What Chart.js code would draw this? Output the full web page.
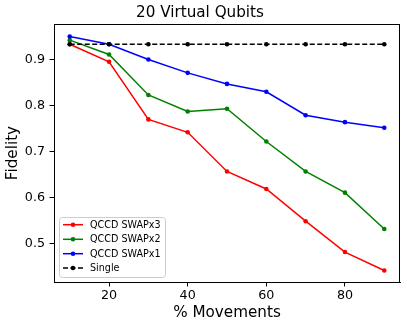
<!DOCTYPE html>
<html>
<head>
<meta charset="utf-8">
<script src="https://cdn.jsdelivr.net/npm/chart.js@4"></script>
<style>
  html, body { margin: 0; padding: 0; background: #fff; }
  #wrap { width: 407px; height: 328px; }
</style>
</head>
<body>
<div id="wrap"><canvas id="fid"></canvas></div>
<script>
const movements = [10, 20, 30, 40, 50, 60, 70, 80, 90];
const swapx3 = [0.933, 0.895, 0.770, 0.742, 0.657, 0.619, 0.549, 0.482, 0.442];
const swapx2 = [0.942, 0.911, 0.823, 0.787, 0.793, 0.722, 0.657, 0.611, 0.532];
const swapx1 = [0.950, 0.933, 0.900, 0.871, 0.847, 0.830, 0.779, 0.764, 0.752];
const single = [0.933, 0.933, 0.933, 0.933, 0.933, 0.933, 0.933, 0.933, 0.933];
const xTicks = [20, 40, 60, 80];
const yTicks = [0.5, 0.6, 0.7, 0.8, 0.9];

const FONT = "'DejaVu Sans', sans-serif";
const names = ["QCCD SWAPx3", "QCCD SWAPx2", "QCCD SWAPx1", "Single"];
const colors = ["#ff0000", "#008000", "#0000ff", "#000000"];

function pts(ys) {
  return movements.map((x, i) => ({ x: x, y: ys[i] }));
}

function line(idx, ys, dash) {
  return {
    label: names[idx],
    data: pts(ys),
    borderColor: colors[idx],
    backgroundColor: colors[idx],
    pointBackgroundColor: colors[idx],
    pointBorderWidth: 0,
    pointRadius: 2.3,
    borderWidth: 1.5,
    borderDash: dash || [],
    tension: 0,
    order: 4 - idx
  };
}

// frame + legend drawn like matplotlib
const boxPlugin = {
  id: "box",
  afterDraw(chart) {
    const c = chart.ctx;
    const a = chart.chartArea;
    c.save();
    c.strokeStyle = "#000";
    c.lineWidth = 1;
    c.strokeRect(Math.round(a.left) + 0.5, Math.round(a.top) + 0.5,
      Math.round(a.right - a.left) - 1, Math.round(a.bottom - a.top));

    // legend
    const lx = 59, ly = 217, lw = 106, lh = 60;
    c.beginPath();
    c.roundRect(lx + 0.5, ly + 0.5, lw, lh, 3);
    c.fillStyle = "rgba(255,255,255,0.8)";
    c.fill();
    c.strokeStyle = "#cccccc";
    c.stroke();
    const rows = [224.7, 239.3, 253.7, 268];
    c.font = "9.6px " + FONT;
    c.textBaseline = "middle";
    c.textAlign = "left";
    names.forEach((n, i) => {
      const y = rows[i];
      c.strokeStyle = colors[i];
      c.lineWidth = 1.5;
      c.setLineDash(i === 3 ? [5, 2.5] : []);
      c.beginPath();
      c.moveTo(63, y);
      c.lineTo(83, y);
      c.stroke();
      c.setLineDash([]);
      c.fillStyle = colors[i];
      c.beginPath();
      c.arc(73, y, 2.3, 0, Math.PI * 2);
      c.fill();
      c.fillStyle = "#000";
      c.fillText(n, 90, y + 0.5);
    });
    c.restore();
  }
};

const ctx = document.getElementById("fid").getContext("2d");
new Chart(ctx, {
  type: "line",
  data: {
    datasets: [
      line(0, swapx3),
      line(1, swapx2),
      line(2, swapx1),
      line(3, single, [5, 2.5])
    ]
  },
  options: {
    responsive: true,
    maintainAspectRatio: false,
    animation: false,
    layout: { padding: { top: 0, right: 7, left: 0, bottom: 0 } },
    plugins: {
      legend: { display: false },
      tooltip: { enabled: false },
      title: {
        display: true,
        text: "20 Virtual Qubits",
        color: "#000",
        font: { family: FONT, size: 15.2, weight: "normal" },
        padding: { top: 4.4, bottom: 1.4 }
      }
    },
    scales: {
      x: {
        type: "linear",
        min: 6,
        max: 94,
        afterBuildTicks: s => { s.ticks = xTicks.map(v => ({ value: v })); },
        afterFit: s => { s.height = 46; },
        grid: { drawOnChartArea: false, drawTicks: true, tickLength: 4.5, color: "#000" },
        border: { display: true, color: "#000" },
        ticks: {
          color: "#000",
          padding: 2,
          maxRotation: 0,
          font: { family: FONT, size: 12.7 },
          callback: v => String(v)
        },
        title: {
          display: true,
          text: "% Movements",
          color: "#000",
          font: { family: FONT, size: 15.2 },
          padding: { top: 0, bottom: 5.9 }
        }
      },
      y: {
        min: 0.417,
        max: 0.977,
        afterBuildTicks: s => { s.ticks = yTicks.map(v => ({ value: v })); },
        afterFit: s => { s.width = 54; },
        grid: { drawOnChartArea: false, drawTicks: true, tickLength: 4.5, color: "#000" },
        border: { display: true, color: "#000" },
        ticks: {
          color: "#000",
          padding: 4.5,
          font: { family: FONT, size: 12.7 },
          callback: v => v.toFixed(1)
        },
        title: {
          display: true,
          text: "Fidelity",
          color: "#000",
          font: { family: FONT, size: 15.2 },
          padding: { top: 4.2, bottom: 0 }
        }
      }
    }
  },
  plugins: [boxPlugin]
});
</script>
</body>
</html>
